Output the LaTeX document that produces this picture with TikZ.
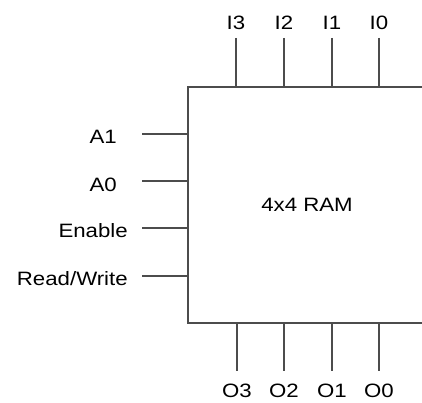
\documentclass[tikz,border=0pt]{standalone}
\usepackage{fontspec}
\setmainfont{Liberation Sans}[FakeStretch=1.15]
\tikzset{
  chip/.style={draw=black!70, line width=0.9pt,
               minimum width=178.5pt, minimum height=177pt,
               align=center, inner sep=0pt, font=\fontsize{14.5}{16}\selectfont},
  lbl/.style={inner sep=0pt, text height=15pt, text depth=0pt,
              font=\fontsize{14.5}{16}\selectfont},
  wire/.style={draw=black!70, line width=0.9pt}
}

\begin{document}
\begin{tikzpicture}[
  x=0.75pt, y=-0.75pt,
  inwire/.style={wire, shorten <=6pt},
  outwire/.style={wire, shorten >=4.5pt},
  sidewire/.style={wire, shorten <=10.5pt}
]
\useasboundingbox (0,0) rectangle (422,403);
\clip (0,0) rectangle (422,403);

\node[chip] (ram) at (307,205) {4x4 RAM};

% data inputs
\node[lbl, anchor=south] (i3) at (236,30) {I3};
\node[lbl, anchor=south] (i2) at (284,30) {I2};
\node[lbl, anchor=south] (i1) at (332,30) {I1};
\node[lbl, anchor=south] (i0) at (379,30) {I0};

% control inputs
\node[lbl, anchor=east] (a1) at (117,134) {A1};
\node[lbl, anchor=east] (a0) at (117,181) {A0};
\node[lbl, anchor=east] (en) at (128,228) {Enable};
\node[lbl, anchor=east] (rw) at (128,276) {Read/Write};

% data outputs
\node[lbl, anchor=north] (o3) at (237,377) {O3};
\node[lbl, anchor=north] (o2) at (284,377) {O2};
\node[lbl, anchor=north] (o1) at (332,377) {O1};
\node[lbl, anchor=north] (o0) at (379,377) {O0};

\draw[inwire] (i3.south) -- (i3.south |- ram.north);
\draw[inwire] (i2.south) -- (i2.south |- ram.north);
\draw[inwire] (i1.south) -- (i1.south |- ram.north);
\draw[inwire] (i0.south) -- (i0.south |- ram.north);

\draw[sidewire, shorten <=18.75pt] (a1.east) -- (a1.east -| ram.west);
\draw[sidewire, shorten <=18.75pt] (a0.east) -- (a0.east -| ram.west);
\draw[sidewire] (en.east) -- (en.east -| ram.west);
\draw[sidewire] (rw.east) -- (rw.east -| ram.west);

\draw[outwire] (o3.north |- ram.south) -- (o3.north);
\draw[outwire] (o2.north |- ram.south) -- (o2.north);
\draw[outwire] (o1.north |- ram.south) -- (o1.north);
\draw[outwire] (o0.north |- ram.south) -- (o0.north);
\end{tikzpicture}
\end{document}
